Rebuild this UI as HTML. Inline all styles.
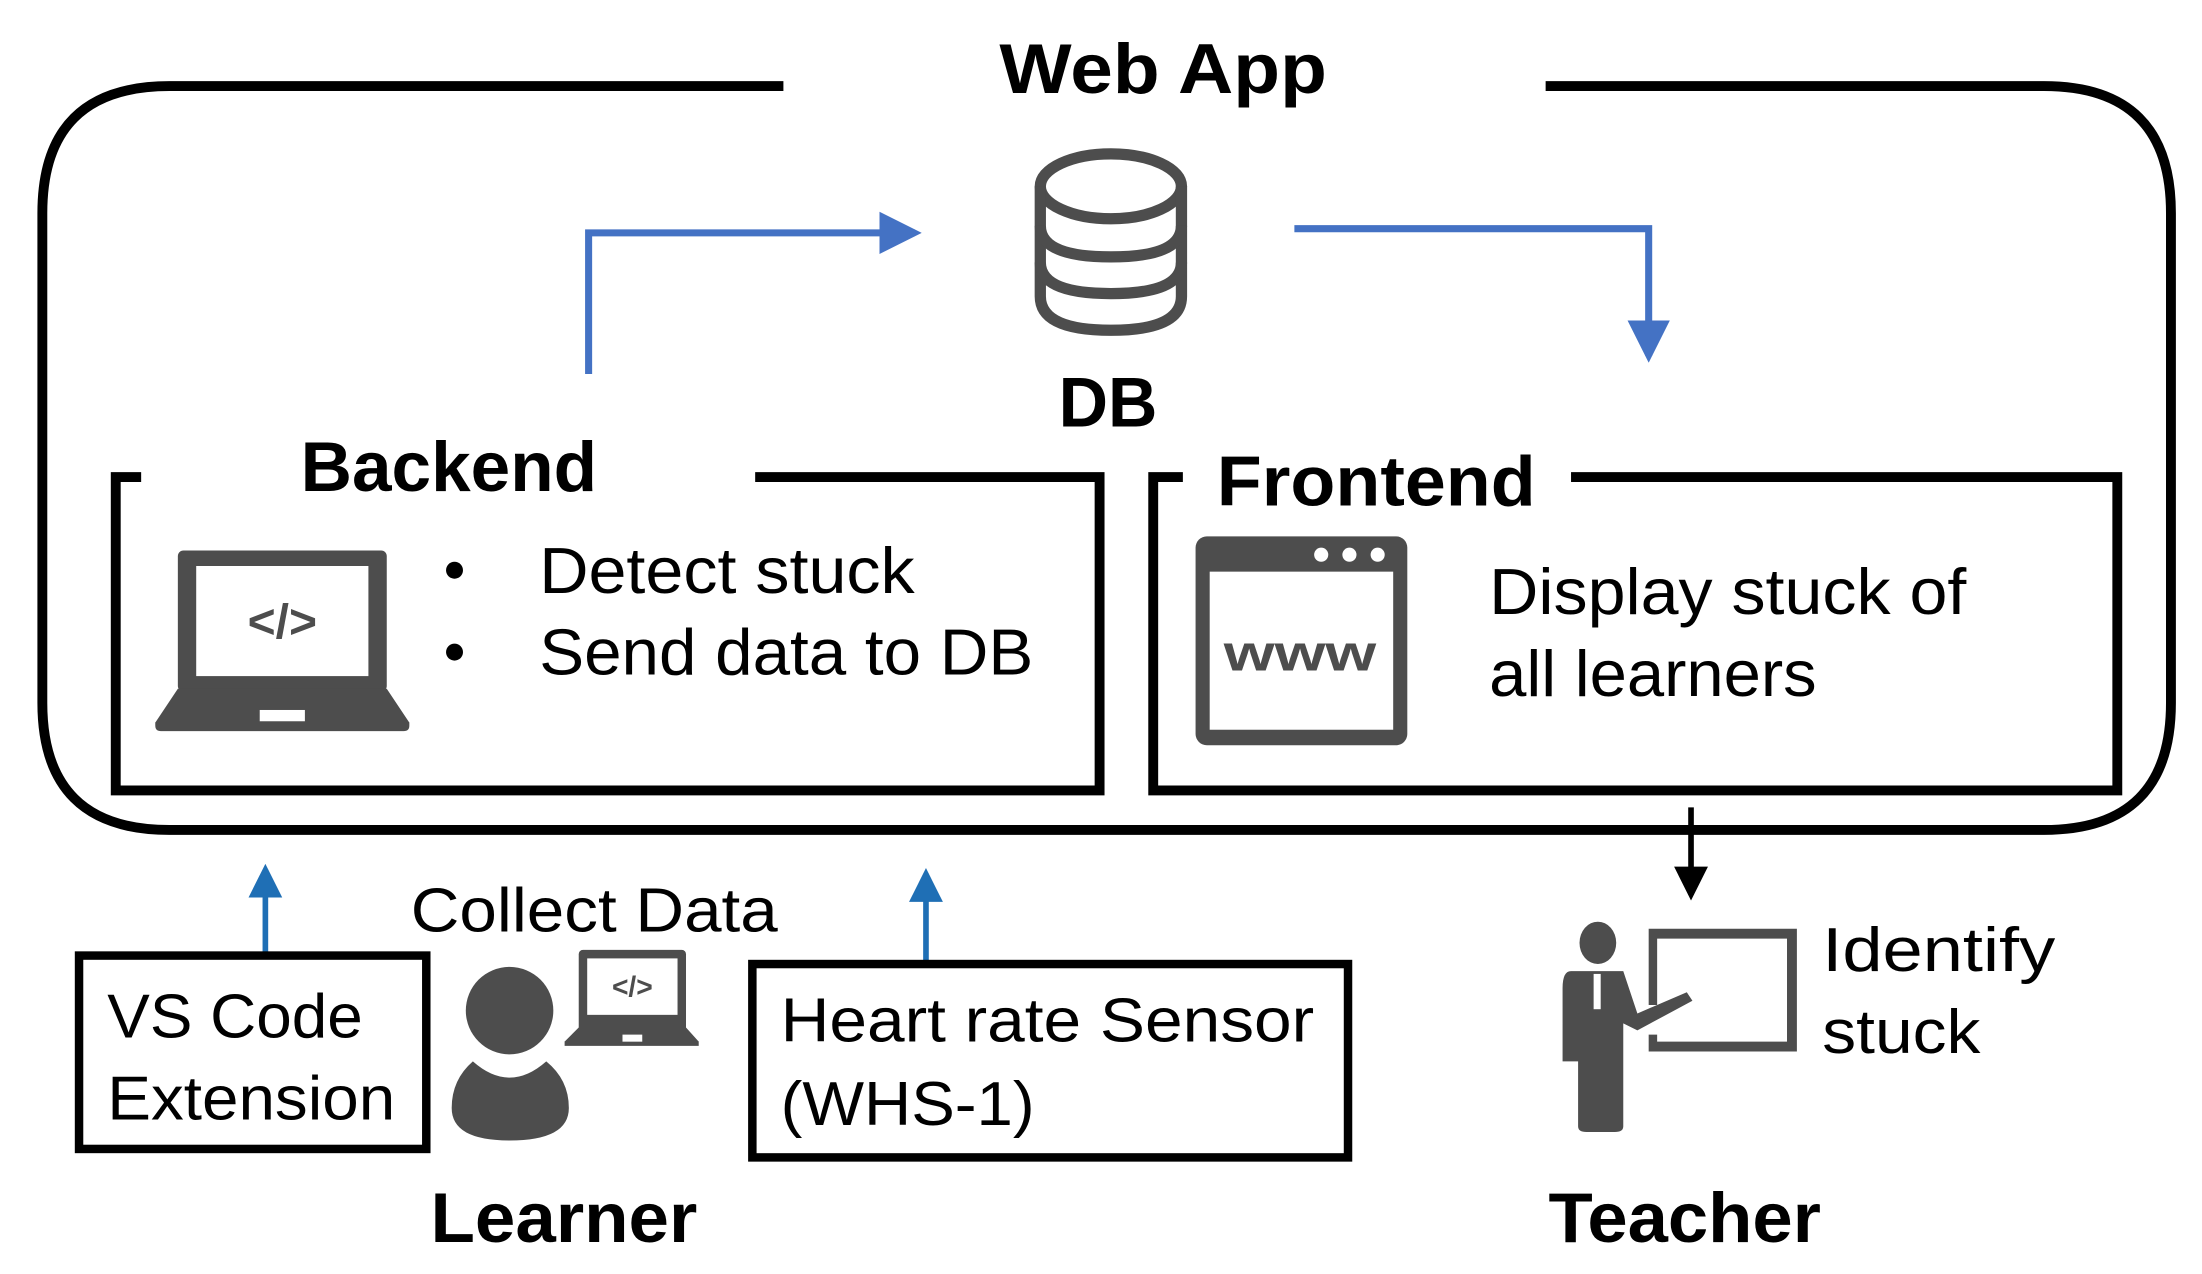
<!DOCTYPE html>
<html><head><meta charset="utf-8"><style>
html,body{margin:0;padding:0;background:#fff;}
svg{display:block;}
text{font-family:"Liberation Sans",sans-serif;}
.b{font-weight:bold;fill:#000;}
.r{fill:#000;}
</style></head><body>
<svg width="2202" height="1274" viewBox="0 0 1560 902.6" preserveAspectRatio="none" xmlns="http://www.w3.org/2000/svg">
<defs>
<marker id="ab" markerWidth="6" markerHeight="6" refX="5" refY="3" orient="auto" markerUnits="strokeWidth"><path d="M0,0 L6,3 L0,6z" fill="#4472c4"/></marker>
<marker id="ad" markerWidth="6" markerHeight="6" refX="5" refY="3" orient="auto" markerUnits="strokeWidth"><path d="M0,0 L6,3 L0,6z" fill="#1f6fb5"/></marker>
<marker id="ak" markerWidth="6" markerHeight="6" refX="5" refY="3" orient="auto" markerUnits="strokeWidth"><path d="M0,0 L6,3 L0,6z" fill="#000"/></marker>
</defs>
<!-- outer -->
<path d="M555,61 L120,61 Q30,61 30,151 L30,498 Q30,588 120,588 L1448,588 Q1538,588 1538,498 L1538,151 Q1538,61 1448,61 L1095,61" fill="none" stroke="#000" stroke-width="7"/>
<text class="b" x="708" y="66" font-size="50" textLength="232" lengthAdjust="spacingAndGlyphs">Web App</text>
<!-- DB icon -->
<g fill="none" stroke="#4d4d4d" stroke-width="8">
<ellipse cx="787" cy="132" rx="50" ry="23"/>
<path d="M737,132 L737,210 Q737,234 787,234 Q837,234 837,210 L837,132"/>
<path d="M737,160 Q737,182 787,182 Q837,182 837,160"/>
<path d="M737,186 Q737,208 787,208 Q837,208 837,186"/>
</g>
<text class="b" x="750" y="302" font-size="50" textLength="70" lengthAdjust="spacingAndGlyphs">DB</text>
<!-- blue arrows -->
<path d="M417,265 L417,165 L648,165" fill="none" stroke="#4472c4" stroke-width="5" marker-end="url(#ab)"/>
<path d="M917,162 L1168,162 L1168,252" fill="none" stroke="#4472c4" stroke-width="5" marker-end="url(#ab)"/>
<!-- Backend -->
<path d="M100,338 L82,338 L82,560 L779,560 L779,338 L535,338" fill="none" stroke="#000" stroke-width="7"/>
<text class="b" x="213" y="348" font-size="50" textLength="210" lengthAdjust="spacingAndGlyphs">Backend</text>
<g fill="#4d4d4d">
<rect x="126" y="390" width="148" height="100" rx="4"/>
<rect x="139" y="401" width="122" height="78" fill="#fff"/>
<path d="M126,488 L274,488 L290,512 L290,514 Q290,518 286,518 L114,518 Q110,518 110,514 L110,512z"/>
<rect x="184" y="503" width="32" height="8" fill="#fff"/>
</g>
<text x="200" y="452" font-size="34" font-weight="bold" fill="#4d4d4d" text-anchor="middle">&lt;/&gt;</text>
<circle cx="322" cy="404" r="6" fill="#000"/><circle cx="322" cy="462" r="6" fill="#000"/>
<text class="r" x="382" y="420" font-size="46" textLength="266" lengthAdjust="spacingAndGlyphs">Detect stuck</text>
<text class="r" x="382" y="478" font-size="46" textLength="350" lengthAdjust="spacingAndGlyphs">Send data to DB</text>
<!-- Frontend -->
<path d="M838,338 L817,338 L817,560 L1500,560 L1500,338 L1113,338" fill="none" stroke="#000" stroke-width="7"/>
<text class="b" x="862" y="358" font-size="50" textLength="226" lengthAdjust="spacingAndGlyphs">Frontend</text>
<g fill="#4d4d4d">
<rect x="847" y="380" width="150" height="148" rx="8"/>
<rect x="857" y="405" width="130" height="112" fill="#fff"/>
<circle cx="936" cy="393" r="5" fill="#fff"/><circle cx="956" cy="393" r="5" fill="#fff"/><circle cx="976" cy="393" r="5" fill="#fff"/>
</g>
<text x="921" y="475" font-size="36" font-weight="bold" fill="#4d4d4d" text-anchor="middle" textLength="108" lengthAdjust="spacingAndGlyphs">www</text>
<text class="r" x="1055" y="435" font-size="46" textLength="338" lengthAdjust="spacingAndGlyphs">Display stuck of</text>
<text class="r" x="1055" y="493" font-size="46" textLength="232" lengthAdjust="spacingAndGlyphs">all learners</text>
<!-- black arrow -->
<path d="M1198,572 L1198,634" fill="none" stroke="#000" stroke-width="4" marker-end="url(#ak)"/>
<!-- blue up arrows -->
<path d="M188,678 L188,616" fill="none" stroke="#1f6fb5" stroke-width="4" marker-end="url(#ad)"/>
<path d="M656,682 L656,619" fill="none" stroke="#1f6fb5" stroke-width="4" marker-end="url(#ad)"/>
<text class="r" x="291" y="660" font-size="44" textLength="260" lengthAdjust="spacingAndGlyphs">Collect Data</text>
<!-- VS Code box -->
<rect x="56" y="677" width="246" height="137" fill="none" stroke="#000" stroke-width="6"/>
<text class="r" x="76" y="735" font-size="44" textLength="181" lengthAdjust="spacingAndGlyphs">VS Code</text>
<text class="r" x="76" y="793" font-size="44" textLength="204" lengthAdjust="spacingAndGlyphs">Extension</text>
<!-- learner icon -->
<g fill="#4d4d4d">
<circle cx="361" cy="716" r="31"/>
<path d="M335,752 Q361,775 387,752 Q403,765 403,785 Q403,808 361,808 Q320,808 320,785 Q320,765 335,752z"/>
<rect x="410" y="673" width="76" height="58" rx="3"/>
<rect x="416" y="679" width="64" height="40" fill="#fff"/>
<path d="M410,728 L486,728 L495,738 L495,741 L400,741 L400,738z"/>
<rect x="441" y="733" width="14" height="5" fill="#fff"/>
</g>
<text x="448" y="706" font-size="20" font-weight="bold" fill="#4d4d4d" text-anchor="middle">&lt;/&gt;</text>
<!-- heart rate box -->
<rect x="533" y="683" width="422" height="137" fill="none" stroke="#000" stroke-width="6"/>
<text class="r" x="553" y="738" font-size="44" textLength="378" lengthAdjust="spacingAndGlyphs">Heart rate Sensor</text>
<text class="r" x="553" y="797" font-size="44" textLength="180" lengthAdjust="spacingAndGlyphs">(WHS-1)</text>
<text class="b" x="305" y="880" font-size="50" textLength="189" lengthAdjust="spacingAndGlyphs">Learner</text>
<!-- teacher icon -->
<g fill="#4d4d4d">
<ellipse cx="1132" cy="668" rx="13" ry="15"/>
<path d="M1113,688 L1150,688 L1160,718 L1195,703 L1199,709 L1160,730 L1150,725 L1150,798 Q1150,802 1144,802 L1124,802 Q1118,802 1118,798 L1118,752 L1107,752 L1107,700 Q1107,688 1113,688z"/>
<path d="M1168,658 L1273,658 L1273,745 L1168,745 L1168,733 L1174,733 L1174,738 L1266,738 L1266,665 L1174,665 L1174,712 L1168,712z"/>
</g>
<rect x="1129" y="690" width="5" height="25" fill="#fff"/>
<text class="r" x="1291" y="688" font-size="44" textLength="165" lengthAdjust="spacingAndGlyphs">Identify</text>
<text class="r" x="1291" y="746" font-size="44" textLength="112" lengthAdjust="spacingAndGlyphs">stuck</text>
<text class="b" x="1097" y="880" font-size="50" textLength="193" lengthAdjust="spacingAndGlyphs">Teacher</text>
</svg>
</body></html>
